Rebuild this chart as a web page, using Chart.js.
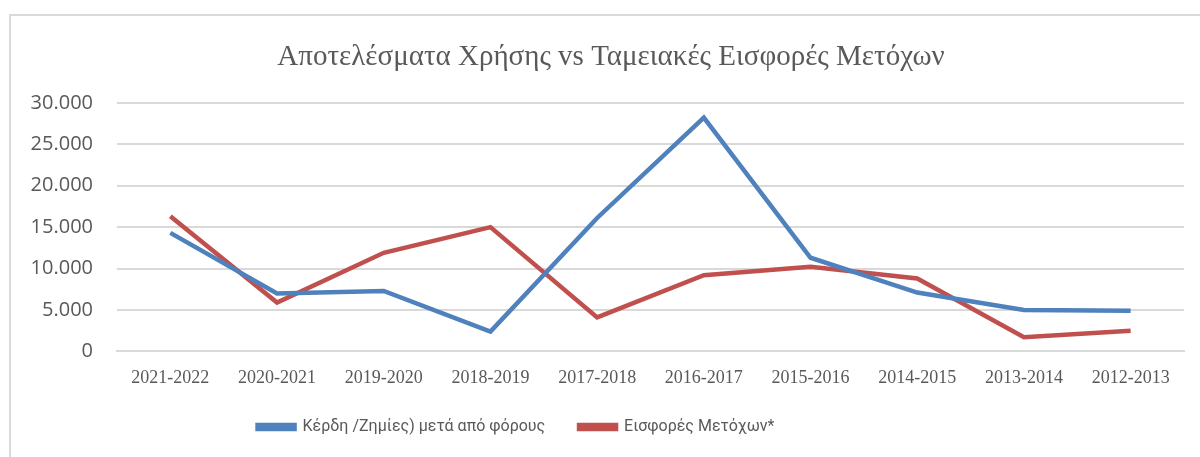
<!DOCTYPE html>
<html>
<head>
<meta charset="utf-8">
<script src="https://cdn.jsdelivr.net/npm/chart.js@4.4.0/dist/chart.umd.min.js"></script>
<style>
  html, body { margin: 0; padding: 0; background: #fff; overflow: hidden; }
  #wrap { position: relative; width: 1200px; height: 457px; }
  #frame { position: absolute; left: 9px; top: 14px; width: 1300px; height: 600px;
           border-left: 2px solid #d9d9d9; border-top: 2px solid #d9d9d9; }
  canvas { position: absolute; left: 0; top: 0; }
</style>
</head>
<body>
<div id="wrap">
  <div id="frame"></div>
  <canvas id="chart" width="1200" height="457"></canvas>
</div>
<script>
// ---------- data ----------
const years = ['2021-2022', '2020-2021', '2019-2020', '2018-2019', '2017-2018',
               '2016-2017', '2015-2016', '2014-2015', '2013-2014', '2012-2013'];
const profitAfterTax = [14300, 7000, 7300, 2400, 16100, 28200, 11300, 7100, 5000, 4900];
const shareholderContrib = [16300, 5900, 11900, 15000, 4100, 9200, 10200, 8800, 1700, 2500];
const yTicks = [0, 5000, 10000, 15000, 20000, 25000, 30000];

const grey = '#595959';
const fmt = (v) => v.toString().replace(/\B(?=(\d{3})+(?!\d))/g, '.');

// title sits a bit right of centre, legend a bit left, as in the original
const nudgeBlocks = {
  id: 'nudgeBlocks',
  afterLayout(chart) {
    chart.titleBlock.left += 19;
    chart.titleBlock.right += 19;
    chart.legend.left -= 76;
    chart.legend.right -= 76;
  }
};

new Chart(document.getElementById('chart'), {
  type: 'line',
  data: {
    labels: years,
    datasets: [
      { label: 'Κέρδη /Ζημίες) μετά από φόρους', data: profitAfterTax,
        borderColor: '#4f81bd', backgroundColor: '#4f81bd', borderWidth: 4.5,
        pointRadius: 0, tension: 0 },
      { label: 'Εισφορές Μετόχων*', data: shareholderContrib,
        borderColor: '#c0504d', backgroundColor: '#c0504d', borderWidth: 4.5,
        pointRadius: 0, tension: 0 }
    ]
  },
  plugins: [nudgeBlocks],
  options: {
    responsive: false,
    animation: false,
    layout: { padding: { left: 0, right: 16, top: 40, bottom: 12 } },
    plugins: {
      title: {
        display: true,
        text: 'Αποτελέσματα Χρήσης vs Ταμειακές Εισφορές Μετόχων',
        color: grey,
        font: { family: '"Liberation Serif", "DejaVu Serif", serif', size: 29, weight: 'normal' },
        padding: { top: 0, bottom: 28 }
      },
      legend: {
        position: 'bottom',
        labels: {
          color: grey,
          boxWidth: 37,
          boxHeight: 4,
          padding: 14,
          font: { family: 'Roboto, sans-serif', size: 16 },
          generateLabels(chart) {
            const items = Chart.defaults.plugins.legend.labels.generateLabels(chart);
            items[0].text += '\u00a0\u00a0\u00a0\u00a0\u00a0';
            return items;
          }
        }
      },
      tooltip: { enabled: false }
    },
    scales: {
      x: {
        offset: true,
        grid: { display: false, drawTicks: false },
        border: { color: '#d9d9d9', width: 2 },
        ticks: { color: grey, padding: 16, maxRotation: 0,
                 font: { family: '"Liberation Serif", serif', size: 18 } }
      },
      y: {
        min: 0, max: 30000,
        afterBuildTicks: (axis) => { axis.ticks = yTicks.map((v) => ({ value: v })); },
        afterFit: (axis) => { axis.width = 117; },
        grid: { color: '#d9d9d9', lineWidth: 2, drawTicks: false },
        border: { display: false },
        ticks: { color: grey, padding: 24, callback: (v) => fmt(v),
                 font: { family: '"Open Sans", "Liberation Sans", sans-serif', size: 20 } }
      }
    }
  }
});
</script>
</body>
</html>
